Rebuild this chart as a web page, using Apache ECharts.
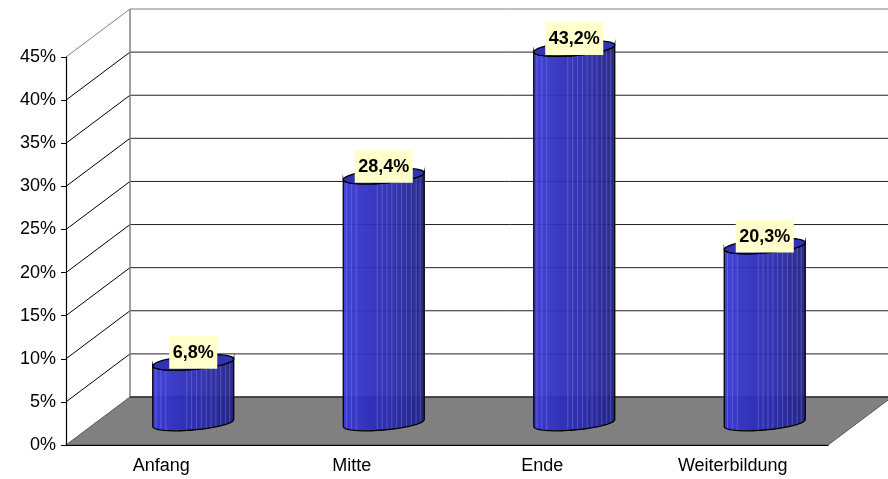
<!DOCTYPE html>
<html>
<head>
<meta charset="utf-8">
<script src="https://cdn.jsdelivr.net/npm/echarts@6/dist/echarts.min.js"></script>
<style>
  html, body { margin: 0; padding: 0; background: #fff; }
  #chart { width: 888px; height: 479px; }
</style>
</head>
<body>
<div id="chart"></div>
<script>
  const categories = ['Anfang', 'Mitte', 'Ende', 'Weiterbildung'];
  const shares = [6.8, 28.4, 43.2, 20.3];
  const yTicks = [0, 5, 10, 15, 20, 25, 30, 35, 40, 45];

  const FONT = 'Arial, "Liberation Sans", sans-serif';
  const LABEL_FONT = 'bold 18px ' + FONT;
  const DEPTH_X = 64;
  const DEPTH_Y = -48;
  const SHEAR = -3.5;
  const RY = 7;
  const STRIPES = [0.04, 0.1, 0.16, 0.42, 0.48, 0.54, 0.6, 0.66, 0.72, 0.78, 0.84, 0.9, 0.95];

  const chart = echarts.init(document.getElementById('chart'), null, { renderer: 'canvas' });
  const measureCtx = document.createElement('canvas').getContext('2d');

  const ellipsePoint = (cx, cy, rx, t) => [
    cx + rx * Math.cos(t),
    cy + RY * Math.sin(t) + SHEAR * Math.cos(t),
  ];

  function arc(cx, cy, rx, from, to, steps) {
    const pts = [];
    for (let i = 0; i <= steps; i++) {
      pts.push(ellipsePoint(cx, cy, rx, from + ((to - from) * i) / steps));
    }
    return pts;
  }

  // back wall, side wall and floor
  function renderWalls(params, api) {
    const cs = params.coordSys;
    const x0 = cs.x;
    const x1 = cs.x + cs.width;
    const yb = cs.y + cs.height;
    const ytop = api.coord([0, yTicks[yTicks.length - 1]])[1];
    const children = [];

    children.push({
      type: 'polygon',
      shape: { points: [[x0, yb], [x0 + DEPTH_X, yb + DEPTH_Y], [x1 + DEPTH_X, yb + DEPTH_Y], [x1, yb]] },
      style: { fill: '#808080', stroke: '#555', lineWidth: 1 },
    });

    yTicks.forEach((v, i) => {
      if (v === 0) return;
      const y = api.coord([0, v])[1];
      const last = i === yTicks.length - 1;
      children.push({
        type: 'line',
        shape: { x1: x0, y1: y, x2: x0 + DEPTH_X, y2: y + DEPTH_Y },
        style: { stroke: last ? '#808080' : '#000', lineWidth: 1 },
      });
      children.push({
        type: 'line',
        shape: { x1: x0 + DEPTH_X, y1: y + DEPTH_Y, x2: x1 + DEPTH_X + 10, y2: y + DEPTH_Y },
        style: { stroke: last ? '#808080' : '#222', lineWidth: 1 },
      });
    });

    children.push({
      type: 'line',
      shape: { x1: x0 + DEPTH_X, y1: ytop + DEPTH_Y, x2: x0 + DEPTH_X, y2: yb + DEPTH_Y },
      style: { stroke: '#808080', lineWidth: 1.5 },
    });
    children.push({
      type: 'line',
      shape: { x1: x0 + DEPTH_X, y1: yb + DEPTH_Y, x2: x1 + DEPTH_X + 10, y2: yb + DEPTH_Y },
      style: { stroke: '#333', lineWidth: 1.5 },
    });

    return { type: 'group', children };
  }

  function renderCylinder(params, api) {
    const idx = api.value(0);
    const val = api.value(1);
    const base = api.coord([idx, 0]);
    const top = api.coord([idx, val]);
    const cx = base[0] + DEPTH_X / 2;
    const by = base[1] + DEPTH_Y / 2 + 2;
    const ty = top[1] + DEPTH_Y / 2;
    const rx = (api.size([1, 0])[0] * 0.425) / 2;

    const body = []
      .concat([ellipsePoint(cx, ty, rx, Math.PI)])
      .concat(arc(cx, by, rx, Math.PI, 0, 40))
      .concat(arc(cx, ty, rx, 0, Math.PI, 40));

    const stripes = STRIPES.map((f) => {
      const c = f * 2 - 1;
      const s = Math.sqrt(1 - c * c);
      const x = cx + rx * c;
      return {
        type: 'line',
        shape: { x1: x, y1: ty + RY * s + SHEAR * c, x2: x, y2: by + RY * s + SHEAR * c },
        style: { stroke: 'rgba(140,140,255,0.4)', lineWidth: 1 },
      };
    });

    const text = val.toFixed(1).replace('.', ',') + '%';
    measureCtx.font = LABEL_FONT;
    const boxW = measureCtx.measureText(text).width + 7;
    const boxH = 33;
    const ly = ty - 10;

    return {
      type: 'group',
      children: [
        {
          type: 'polygon',
          shape: { points: body },
          style: {
            fill: new echarts.graphic.LinearGradient(0, 0, 1, 0, [
              { offset: 0, color: '#3838d4' },
              { offset: 0.35, color: '#2d2dbc' },
              { offset: 0.7, color: '#2727a2' },
              { offset: 1, color: '#1e1e7e' },
            ]),
            opacity: 0.94,
          },
        },
      ].concat(stripes).concat([
        {
          type: 'polygon',
          shape: { points: body },
          style: { fill: 'none', stroke: '#000', lineWidth: 1.3 },
        },
        {
          type: 'polygon',
          shape: { points: arc(cx, ty, rx, 0, Math.PI * 2, 80) },
          style: { fill: '#3232b6', stroke: '#000', lineWidth: 1.3 },
        },
        {
          type: 'rect',
          shape: { x: cx - boxW / 2, y: ly - boxH / 2, width: boxW, height: boxH },
          style: { fill: '#ffffcc' },
        },
        {
          type: 'text',
          style: {
            text: text,
            x: cx,
            y: ly + 1,
            align: 'center',
            verticalAlign: 'middle',
            font: LABEL_FONT,
            fill: '#000',
          },
        },
      ]),
    };
  }

  chart.setOption({
    animation: false,
    backgroundColor: '#fff',
    grid: { left: 66, right: 60, top: 57, bottom: 34 },
    xAxis: {
      type: 'category',
      data: categories,
      z: 10,
      axisLine: { lineStyle: { color: '#000', width: 1.2 } },
      axisTick: { length: 7, lineStyle: { color: '#000' } },
      axisLabel: { color: '#000', fontSize: 18, fontFamily: FONT, margin: 12 },
      splitLine: { show: false },
    },
    yAxis: {
      type: 'value',
      min: 0,
      max: 45,
      interval: 5,
      z: 10,
      axisLine: { show: true, lineStyle: { color: '#000', width: 1.2 } },
      axisTick: { show: true, length: 5, lineStyle: { color: '#000' } },
      axisLabel: { color: '#000', fontSize: 18, fontFamily: FONT, margin: 10, formatter: '{value}%' },
      splitLine: { show: false },
    },
    series: [
      {
        type: 'custom',
        z: 1,
        silent: true,
        renderItem: renderWalls,
        data: [[0, 0]],
      },
      {
        type: 'custom',
        z: 3,
        renderItem: renderCylinder,
        encode: { x: 0, y: 1 },
        data: shares.map((v, i) => [i, v]),
      },
    ],
  });
</script>
</body>
</html>
